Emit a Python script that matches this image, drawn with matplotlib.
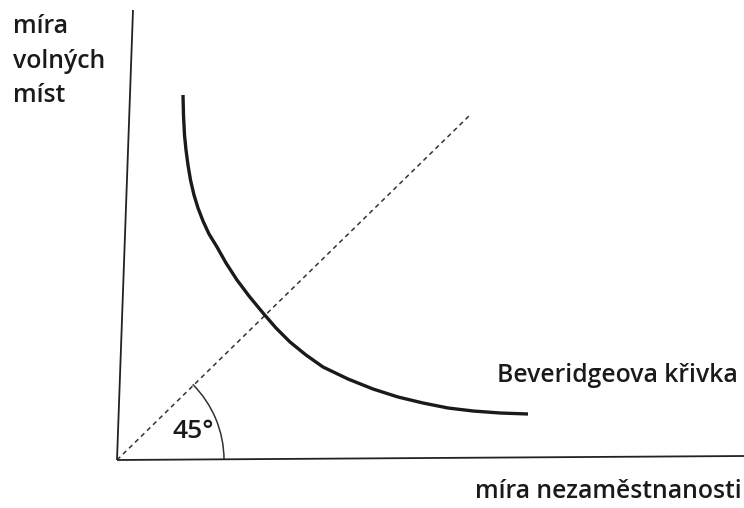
import matplotlib
matplotlib.use("Agg")
import matplotlib.pyplot as plt
from matplotlib.patches import Arc

plt.rcParams['font.family'] = ['Open Sans', 'DejaVu Sans']

# Beveridge curve (unemployment rate, vacancy rate)
unemployment = [66, 66.5, 67.5, 69, 71, 73.5, 77, 81, 86, 92, 100, 109, 120, 132,
                146, 159, 173, 189, 206, 231, 256, 281, 306, 331, 356, 383, 411]
vacancies    = [365, 345, 325, 310, 295, 280, 265, 252, 239, 226, 213, 197, 180, 164,
                147, 132, 118, 105, 93, 81, 71, 63, 57, 52, 49, 47, 46]

# 45 degree line end
diag_x = [0, 353]
diag_y = [0, 345]

# axes lines
yaxis_x = [0, 16]
yaxis_y = [0, 450]
xaxis_x = [0, 627]
xaxis_y = [0, 4]

arc_radius = 107

label_y_lines = ["míra", "volných", "míst"]
label_x = "míra nezaměstnanosti"
label_curve = "Beveridgeova křivka"
label_angle = "45°"

fig = plt.figure(figsize=(7.44, 5.08), dpi=100)
ax = fig.add_axes([0, 0, 1, 1])
ax.set_xlim(-117, 627)
ax.set_ylim(-48, 460)
ax.axis('off')

ax.plot(yaxis_x, yaxis_y, color='#222222', lw=1.3, solid_capstyle='butt')
ax.plot(xaxis_x, xaxis_y, color='#222222', lw=1.3, solid_capstyle='butt')
ax.plot(diag_x, diag_y, color='#333333', lw=1.1, linestyle=(0, (3, 2.5)))
ax.plot(unemployment, vacancies, color='#1a1a1a', lw=2.4,
        solid_capstyle='butt', solid_joinstyle='round')

arc = Arc((0, 0), 2 * arc_radius, 2 * arc_radius, theta1=0, theta2=45,
          color='#333333', lw=1.1)
ax.add_patch(arc)

tkw = dict(color='#1a1a1a', fontweight='semibold')
ax.text(76, 28, label_angle, fontsize=19, ha='center', va='center', **tkw)
for i, line in enumerate(label_y_lines):
    ax.text(-104, 427 - 34.5 * i, line, fontsize=17.8, ha='left', va='baseline', **tkw)
ax.text(621, 78, label_curve, fontsize=17.8, ha='right', va='baseline', **tkw)
ax.text(625, -38, label_x, fontsize=17.8, ha='right', va='baseline', **tkw)

fig.savefig("out.png", dpi=100)
